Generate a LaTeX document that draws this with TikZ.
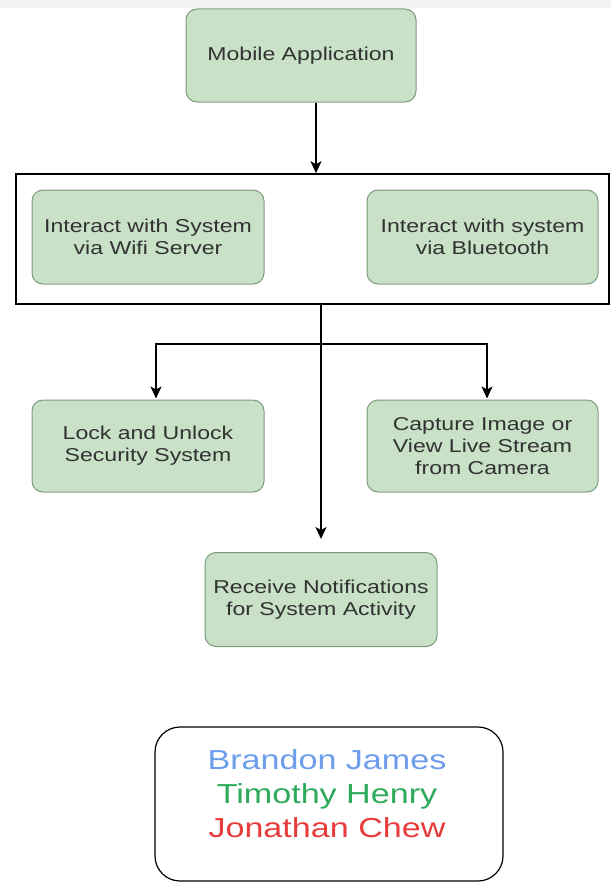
\documentclass[tikz,border=0pt]{standalone}
\usepackage{fontspec}
\setmainfont{Liberation Sans}[FakeStretch=1.24]
\usepackage{tikz}
\usetikzlibrary{arrows.meta}
\tikzset{>={Stealth[length=12pt,width=11pt,inset=3pt]}}
\usepackage{xcolor}
\definecolor{boxfill}{RGB}{200,225,199}
\definecolor{boxline}{RGB}{125,155,124}
\definecolor{boxtext}{RGB}{50,50,50}
\definecolor{nameblue}{RGB}{109,158,235}
\definecolor{namegreen}{RGB}{46,170,92}
\definecolor{namered}{RGB}{230,60,60}
\tikzstyle{box}=[draw=boxline,fill=boxfill,rounded corners=11,line width=1,text=boxtext,align=center,
  font=\fontsize{18.6}{21.7}\selectfont,inner sep=0]

\begin{document}
\begin{tikzpicture}[x=1pt,y=-1pt]
				\useasboundingbox (0,0) rectangle (611,883);
				\fill[gray!10] (0,0) rectangle (611,8);
				
				\node[box,minimum width=230,minimum height=93] at (301, 55.5) (mobile) {Mobile Application};
				\node[draw,line width=1.5,minimum width=593,minimum height=130,inner sep=0] at (312.5, 239) (frame) {};
				\node[box,minimum width=232,minimum height=94] at (148, 237) (wifi) {Interact with System\\via Wifi Server};
				\node[box,minimum width=231,minimum height=94] at (482.5, 237) (bt) {Interact with system\\via Bluetooth};
				
				\node[box,minimum width=232,minimum height=92] at (148, 446) (lock) {Lock and Unlock\\Security System};
				\node[box,minimum width=231,minimum height=92] at (482.5, 446) (camera) {Capture Image or\\View Live Stream\\from Camera};
				\node[box,minimum width=232,minimum height=94] at (321, 599.5) (notify) {Receive Notifications\\for System Activity};
				
				\draw [->,line width=1.5] ([xshift=15]mobile.south) -- ([xshift=15]mobile.south |- frame.north);
				\draw [->,line width=1.5] (frame.south -| notify) -- ([yshift=13]notify.north);
				\coordinate (split) at (321, 344);
				\draw [->,line width=1.5] (split) -| ([xshift=8,yshift=1]lock.north);
				\draw [->,line width=1.5] (split) -| ([xshift=4.5,yshift=1]camera.north);
				
				\node[draw,line width=1.2,rounded corners=25,minimum width=348,minimum height=154,inner sep=0] at (329, 804) (team) {};
				\node[align=center,font=\fontsize{27.5}{34}\selectfont] at (327, 794) (names)
					{\textcolor{nameblue}{Brandon James}\\\textcolor{namegreen}{Timothy Henry}\\\textcolor{namered}{Jonathan Chew}};
			\end{tikzpicture}
\end{document}
